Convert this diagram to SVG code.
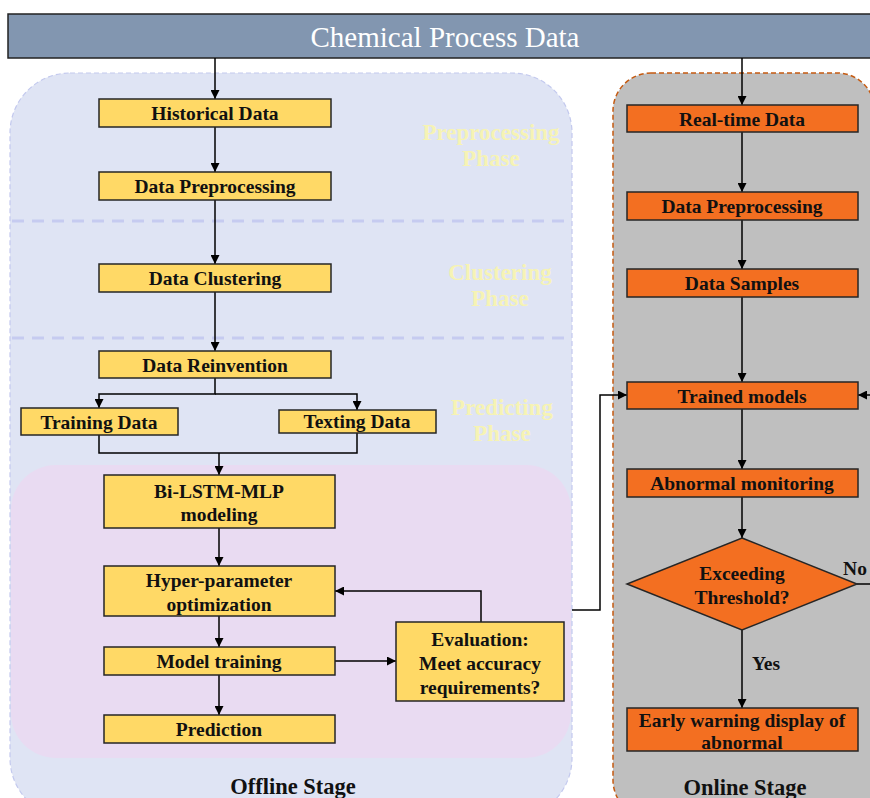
<svg xmlns="http://www.w3.org/2000/svg" width="870" height="798" viewBox="0 0 870 798">
<style>
text{font-family:"Liberation Serif","Times New Roman",serif;font-weight:bold;dominant-baseline:central;text-anchor:middle}
.t{font-size:19.5px;fill:#111}
.y{fill:#ffd966;stroke:#262626;stroke-width:1.5}
.o{fill:#f36f21;stroke:#262626;stroke-width:1.5}
.c{fill:none;stroke:#000;stroke-width:1.5}
.ph{font-size:23px;fill:#f6f3b4}
.st{font-size:22.5px;fill:#111}
.sep{stroke:#c6cbf0;stroke-width:3;stroke-dasharray:12 8}
</style>
<defs>
<marker id="ah" viewBox="0 0 10 10" refX="10" refY="5" markerWidth="9" markerHeight="9" markerUnits="userSpaceOnUse" orient="auto"><path d="M0,0 L10,5 L0,10 z" fill="#000"/></marker>
</defs>
<rect width="870" height="798" fill="#fff"/>
<g id="header">
<rect x="8" y="14" width="870" height="44" fill="#8296b0" stroke="#222" stroke-width="1.5"/>
<text x="445" y="37" style="font-size:29px;font-weight:normal;fill:#fff">Chemical Process Data</text>
</g>
<g id="offline-stage">
<rect x="10" y="73" width="562" height="745" rx="60" fill="#dfe4f4" stroke="#c3c9ee" stroke-width="1.2" stroke-dasharray="5 3"/>
<line class="sep" x1="12" y1="221" x2="570" y2="221"/>
<line class="sep" x1="12" y1="338" x2="570" y2="338"/>
<rect x="11" y="465" width="560" height="293" rx="45" fill="#e9dbf2"/>
<text class="ph" x="491" y="132">Preprocessing</text>
<text class="ph" x="491" y="158">Phase</text>
<text class="ph" x="500" y="272">Clustering</text>
<text class="ph" x="500" y="298">Phase</text>
<text class="ph" x="502" y="407">Predicting</text>
<text class="ph" x="502" y="433">Phase</text>
<text class="st" x="293" y="786">Offline Stage</text>
</g>
<g id="online-stage">
<rect x="613" y="73" width="262" height="745" rx="38" fill="#bfbfbf" stroke="#c55a11" stroke-width="1.5" stroke-dasharray="5 3"/>
<text class="st" x="745" y="787">Online Stage</text>
</g>
<g id="connectors">
<line class="c" x1="215" y1="58" x2="215" y2="99" marker-end="url(#ah)"/>
<line class="c" x1="215" y1="127" x2="215" y2="172" marker-end="url(#ah)"/>
<line class="c" x1="215" y1="200" x2="215" y2="264" marker-end="url(#ah)"/>
<line class="c" x1="215" y1="292" x2="215" y2="351" marker-end="url(#ah)"/>
<polyline class="c" points="215,378 215,394 99,394 99,408" marker-end="url(#ah)"/>
<polyline class="c" points="215,394 357,394 357,410" marker-end="url(#ah)"/>
<polyline class="c" points="99,435 99,453 357,453 357,433"/>
<line class="c" x1="219" y1="453" x2="219" y2="475" marker-end="url(#ah)"/>
<line class="c" x1="219" y1="528" x2="219" y2="566" marker-end="url(#ah)"/>
<line class="c" x1="219" y1="616" x2="219" y2="647" marker-end="url(#ah)"/>
<line class="c" x1="219" y1="675" x2="219" y2="715" marker-end="url(#ah)"/>
<line class="c" x1="335" y1="661" x2="396" y2="661" marker-end="url(#ah)"/>
<polyline class="c" points="481,622 481,591 335,591" marker-end="url(#ah)"/>
<polyline class="c" points="572,610 600,610 600,395 627,395" marker-end="url(#ah)"/>
<line class="c" x1="742" y1="58" x2="742" y2="105" marker-end="url(#ah)"/>
<line class="c" x1="742" y1="132" x2="742" y2="192" marker-end="url(#ah)"/>
<line class="c" x1="742" y1="220" x2="742" y2="269" marker-end="url(#ah)"/>
<line class="c" x1="742" y1="297" x2="742" y2="382" marker-end="url(#ah)"/>
<line class="c" x1="742" y1="409" x2="742" y2="469" marker-end="url(#ah)"/>
<line class="c" x1="742" y1="497" x2="742" y2="538" marker-end="url(#ah)"/>
<line class="c" x1="742" y1="630" x2="742" y2="708" marker-end="url(#ah)"/>
<line class="c" x1="857" y1="584" x2="872" y2="584"/>
<line class="c" x1="872" y1="395" x2="858" y2="395" marker-end="url(#ah)"/>
<text class="t" x="766" y="663">Yes</text>
<text class="t" x="855" y="568">No</text>
</g>
<g id="historical-data"><rect class="y" x="99" y="99" width="232" height="28"/><text class="t" x="215" y="113">Historical Data</text></g>
<g id="data-preprocessing"><rect class="y" x="99" y="172" width="232" height="28"/><text class="t" x="215" y="186">Data Preprocessing</text></g>
<g id="data-clustering"><rect class="y" x="99" y="264" width="232" height="28"/><text class="t" x="215" y="278">Data Clustering</text></g>
<g id="data-reinvention"><rect class="y" x="99" y="351" width="232" height="27"/><text class="t" x="215" y="365">Data Reinvention</text></g>
<g id="training-data"><rect class="y" x="21" y="408" width="157" height="27"/><text class="t" x="99" y="422">Training Data</text></g>
<g id="texting-data"><rect class="y" x="279" y="410" width="157" height="23"/><text class="t" x="357" y="421">Texting Data</text></g>
<g id="bilstm-mlp"><rect class="y" x="104" y="475" width="231" height="53"/><text class="t" x="219" y="491">Bi-LSTM-MLP</text><text class="t" x="219" y="514">modeling</text></g>
<g id="hyper-parameter"><rect class="y" x="104" y="566" width="231" height="50"/><text class="t" x="219" y="580">Hyper-parameter</text><text class="t" x="219" y="604">optimization</text></g>
<g id="model-training"><rect class="y" x="104" y="647" width="231" height="28"/><text class="t" x="219" y="661">Model training</text></g>
<g id="prediction"><rect class="y" x="104" y="715" width="231" height="28"/><text class="t" x="219" y="729">Prediction</text></g>
<g id="evaluation"><rect class="y" x="396" y="622" width="168" height="79"/><text class="t" x="480" y="639">Evaluation:</text><text class="t" x="480" y="663">Meet accuracy</text><text class="t" x="480" y="687">requirements?</text></g>
<g id="real-time-data"><rect class="o" x="627" y="105" width="231" height="27"/><text class="t" x="742" y="119">Real-time Data</text></g>
<g id="online-preprocessing"><rect class="o" x="627" y="192" width="231" height="28"/><text class="t" x="742" y="206">Data Preprocessing</text></g>
<g id="data-samples"><rect class="o" x="627" y="269" width="231" height="28"/><text class="t" x="742" y="283">Data Samples</text></g>
<g id="trained-models"><rect class="o" x="627" y="382" width="231" height="27"/><text class="t" x="742" y="396">Trained models</text></g>
<g id="abnormal-monitoring"><rect class="o" x="627" y="469" width="231" height="28"/><text class="t" x="742" y="483">Abnormal monitoring</text></g>
<g id="exceeding-threshold"><polygon class="o" points="742,538 857,584 742,630 627,584"/><text class="t" x="742" y="573">Exceeding</text><text class="t" x="742" y="597">Threshold?</text></g>
<g id="early-warning"><rect class="o" x="627" y="708" width="231" height="43"/><text class="t" x="742" y="720">Early warning display of</text><text class="t" x="742" y="742">abnormal</text></g>
</svg>
